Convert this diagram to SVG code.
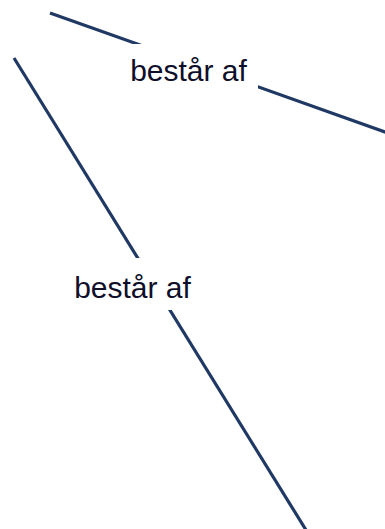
<svg xmlns="http://www.w3.org/2000/svg" width="385" height="529" viewBox="0 0 385 529">
<style>
.edge{stroke:#1f3864;stroke-width:3.2;fill:none}
.lbl{font-family:"Liberation Sans",Arial,sans-serif;font-size:30px;fill:#0f0f2a;text-anchor:middle}
.bg{fill:#ffffff}
</style>
<rect width="385" height="529" fill="#ffffff"/>
<g id="connectors">
<line class="edge" x1="50" y1="13" x2="388" y2="133"/>
<line class="edge" x1="14" y1="58" x2="306" y2="530"/>
</g>
<g id="label1">
<rect class="bg" x="120" y="44" width="138" height="48"/>
<text class="lbl" x="188.5" y="81">består af</text>
</g>
<g id="label2">
<rect class="bg" x="68" y="258" width="130" height="52"/>
<text class="lbl" x="132.5" y="298">består af</text>
</g>
</svg>
